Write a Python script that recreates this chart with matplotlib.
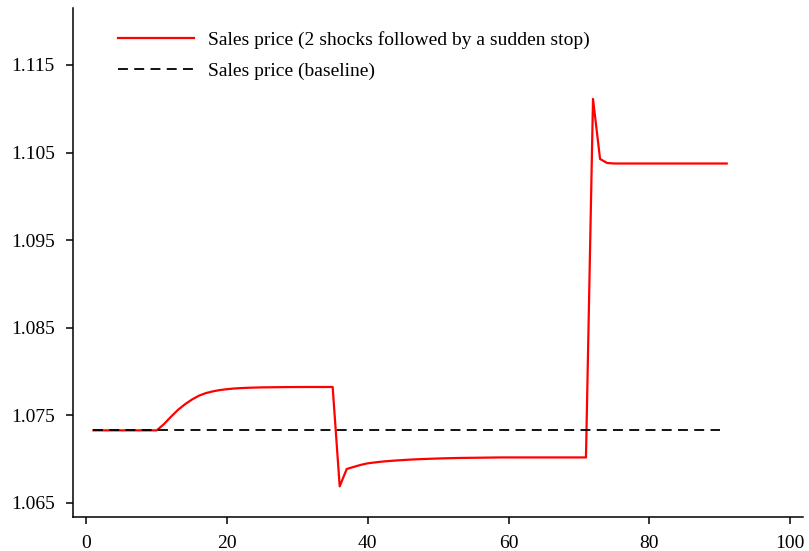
import numpy as np
import matplotlib.pyplot as plt

plt.rcParams['font.family'] = ['Liberation Serif', 'DejaVu Serif']

# periods
periods_shock = np.arange(1, 92)
periods_base = np.arange(1, 91)

# sales price, 2 shocks followed by a sudden stop
rise = [0.0, 0.14, 0.31, 0.47, 0.60, 0.71, 0.80, 0.86, 0.90, 0.93, 0.95,
        0.965, 0.975, 0.982, 0.987, 0.991, 0.993, 0.995, 0.997, 0.998,
        0.999, 0.9995, 1.0, 1.0, 1.0, 1.0]          # periods 10..35
dip = [1.06690, 1.06888, 1.06912, 1.06935, 1.06953, 1.06963, 1.06972,
       1.06979, 1.06985, 1.06990, 1.06995, 1.06999, 1.07002, 1.07005,
       1.07008, 1.07010, 1.07012, 1.07014, 1.07015, 1.07016, 1.07017,
       1.07018, 1.07019]                              # periods 36..58
spike = [1.11112, 1.10427, 1.10381]                   # periods 72..74

base_level = 1.07329
high_level = 1.07824
low_level = 1.07020
stop_level = 1.10375

price_shock = ([base_level] * 9
               + [base_level + r * (high_level - base_level) for r in rise]
               + dip
               + [low_level] * 13
               + spike
               + [stop_level] * 17)
price_base = [base_level] * len(periods_base)

fig = plt.figure(figsize=(8.09, 5.51), dpi=100)
ax = fig.add_axes([73 / 809, 1 - 517 / 551, (802.7 - 73) / 809, (517 - 8) / 551])

ax.plot(periods_shock, price_shock, color='red', lw=1.6,
        label='Sales price (2 shocks followed by a sudden stop)')
ax.plot(periods_base, price_base, color='black', lw=1.3, dashes=(5.5, 3.5),
        label='Sales price (baseline)')

ax.set_xlim(-1.9, 101.8)
ax.set_ylim(1.0634, 1.1215)
ax.set_xticks([0, 20, 40, 60, 80, 100])
ax.set_yticks([1.065, 1.075, 1.085, 1.095, 1.105, 1.115])
ax.set_yticklabels(['1.065', '1.075', '1.085', '1.095', '1.105', '1.115'])

for s in ['top', 'right']:
    ax.spines[s].set_visible(False)
for s in ['left', 'bottom']:
    ax.spines[s].set_linewidth(1.1)
ax.tick_params(direction='out', length=5, width=1.1, labelsize=14, pad=8)

ax.legend(loc='upper left', bbox_to_anchor=(0.038, 0.99), frameon=False,
          fontsize=14, handlelength=3.9, handletextpad=0.7, labelspacing=0.7)

plt.savefig('out.png', dpi=100)
